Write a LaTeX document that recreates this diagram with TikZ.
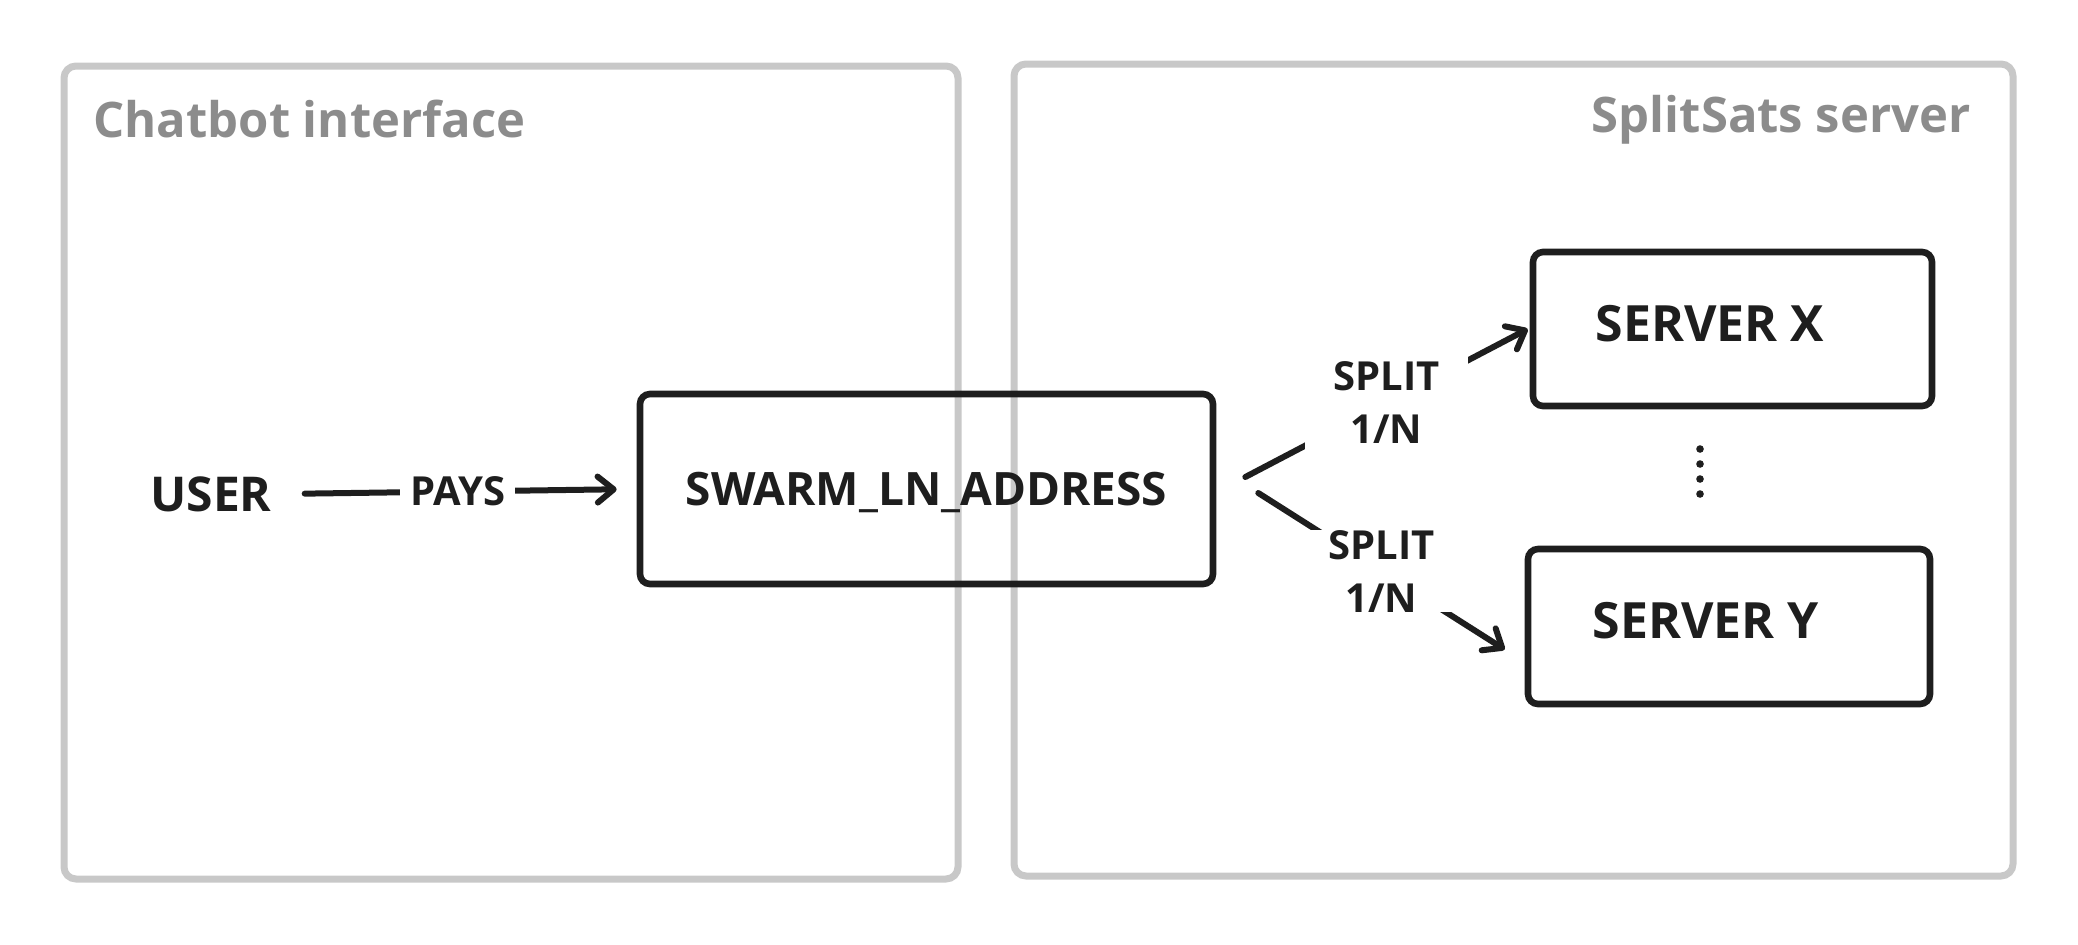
\documentclass[tikz,border=0pt]{standalone}
\usepackage{fontspec}
\setmainfont{Open Sans}
\usetikzlibrary{arrows.meta}
\definecolor{framegray}{HTML}{C8C8C8}
\definecolor{ink}{HTML}{1E1E1E}
\definecolor{titlegray}{HTML}{8C8C8C}
\begin{document}
\begin{tikzpicture}[x=0.5pt,y=-0.5pt,
  framebox/.style={draw=framegray, line width=3.5pt, rounded corners=6pt, inner sep=0pt},
  nodebox/.style={draw=ink, line width=3.3pt, rounded corners=5pt, text=ink, inner sep=0pt, text depth=0pt},
  bigtext/.style={font=\bfseries\fontsize{23}{27}\selectfont},
  srvtext/.style={text=ink, font=\bfseries\fontsize{25}{29}\selectfont, text depth=0pt},
  plaintext/.style={text=ink, font=\bfseries\fontsize{24}{28}\selectfont, text depth=0pt},
  edgelabel/.style={fill=white, text=ink, font=\bfseries\fontsize{20}{26.5}\selectfont, align=center, inner xsep=8pt, inner ysep=2pt},
  ttl/.style={text=titlegray, font=\bfseries\fontsize{24.5}{29}\selectfont, inner sep=0pt},
  arr/.style={draw=ink, line width=3pt, line cap=round, line join=round, -{Straight Barb[length=8pt,width=13pt,line cap=round,line join=round]}},
  dotmark/.style={fill=ink},
]
\useasboundingbox (0,0) rectangle (2078,944);
% frames
\node[framebox, minimum width=447pt, minimum height=406.5pt] (chat) at (511,472.5) {};
\node[framebox, minimum width=499.5pt, minimum height=406pt] (srv) at (1513.5,470) {};
\node[ttl, anchor=base west] (chattitle) at (93,137) {Chatbot interface};
\node[ttl, anchor=base east] (srvtitle) at (1971,132) {SplitSats server};
% nodes
\node[plaintext] (user) at (211,494) {USER};
\node[nodebox, bigtext, minimum width=286.5pt, minimum height=95pt] (swarm) at (926.5,489) {SWARM\_LN\_ADDRESS};
\node[nodebox, minimum width=199.5pt, minimum height=77pt] (sx) at (1732.5,329) {};
\node[srvtext] (sxtext) at (1710,323) {SERVER X};
\node[nodebox, minimum width=201pt, minimum height=77.5pt] (sy) at (1729,626.5) {};
\node[srvtext] (sytext) at (1706,620) {SERVER Y};
% connectors
\draw[arr, shorten <=13pt, shorten >=10pt] (user.east) -- node[edgelabel, inner xsep=5pt] {PAYS} (swarm.west);
\draw[arr] ([xshift=14.5pt,yshift=6pt]swarm.east) -- node[edgelabel, inner xsep=14pt, inner ysep=5pt] {SPLIT\\1/N} ([xshift=-1pt]sx.west);
\draw[arr] ([xshift=21pt,yshift=-2pt]swarm.east) -- node[edgelabel, inner xsep=9pt, inner ysep=0pt] {SPLIT\\1/N} ([xshift=-10pt,yshift=-11.5pt]sy.west);
% dots
\foreach \yy in {449,464,479,494} \fill[dotmark] (1700,\yy) circle (1.9pt);
\end{tikzpicture}
\end{document}
